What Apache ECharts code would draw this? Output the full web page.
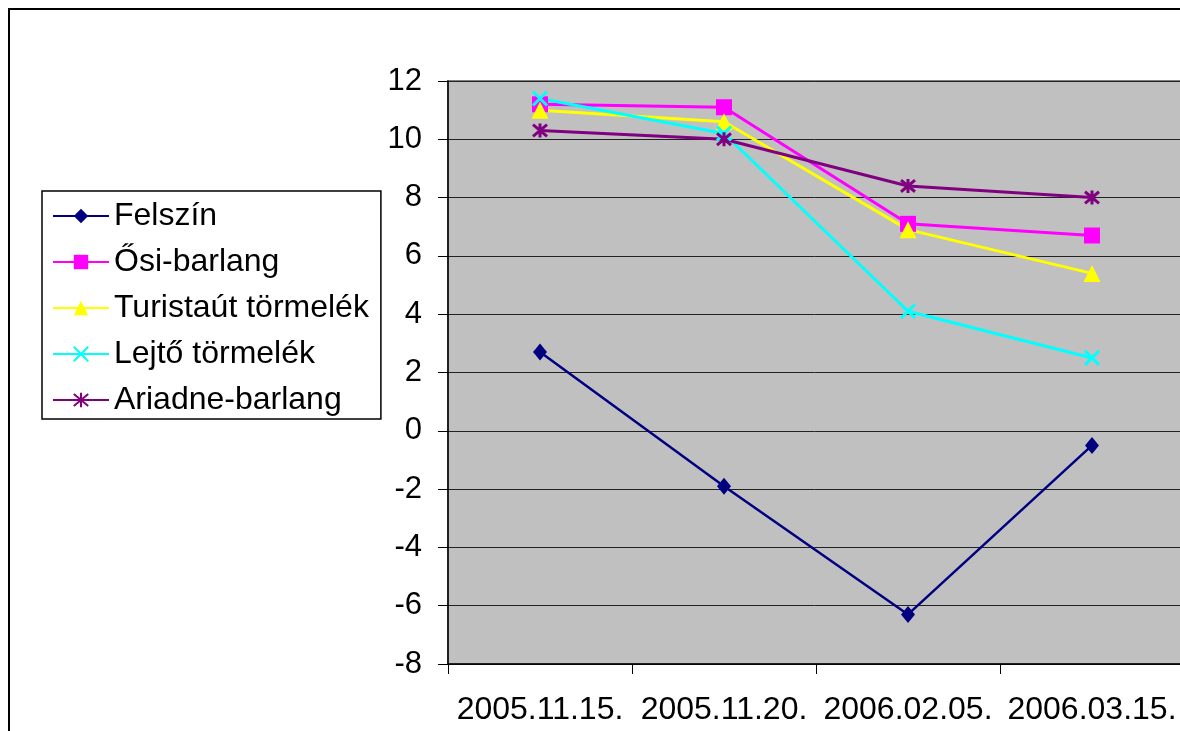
<!DOCTYPE html>
<html>
<head>
<meta charset="utf-8">
<script src="https://cdn.jsdelivr.net/npm/echarts@6/dist/echarts.min.js"></script>
<style>
html,body{margin:0;padding:0;background:#fff;}
#c{width:1180px;height:731px;}
</style>
</head>
<body>
<div id="c"></div>
<script>
const categories = ['2005.11.15.', '2005.11.20.', '2006.02.05.', '2006.03.15.'];
const felszin = [2.7, -1.9, -6.3, -0.5];
const osiBarlang = [11.2, 11.1, 7.1, 6.7];
const turistaut = [11.0, 10.6, 6.9, 5.4];
const lejto = [11.4, 10.2, 4.1, 2.5];
const ariadne = [10.3, 10.0, 8.4, 8.0];
const yTicks = { min: -8, max: 12, interval: 2 };

const FONT = '"Liberation Sans", Arial, sans-serif';
const X_SYM = 'path://M0,0L10,10M10,0L0,10';
const STAR_SYM = 'path://M0,0L10,10M10,0L0,10M5,-1L5,11';

function mk(name, data, color, symbol, size, width, stroke) {
  return {
    name: name, type: 'line', data: data,
    symbol: symbol, symbolSize: size, showAllSymbol: true,
    lineStyle: { color: color, width: width },
    itemStyle: stroke ? { color: color, borderColor: color, borderWidth: 3 } : { color: color, borderWidth: 0 },
    emphasis: { disabled: true },
    animation: false
  };
}

const chart = echarts.init(document.getElementById('c'), null, { renderer: 'canvas' });
chart.setOption({
  animation: false,
  backgroundColor: '#fff',
  textStyle: { fontFamily: FONT },
  graphic: [{
    type: 'rect', z: -10, silent: true,
    shape: { x: 9, y: 9, width: 1300, height: 900 },
    style: { fill: 'none', stroke: '#000', lineWidth: 2 }
  }],
  legend: {
    left: 42, top: 191, orient: 'vertical',
    backgroundColor: '#fff', borderColor: '#000', borderWidth: 1.5,
    padding: [7, 12, 1, 10],
    itemWidth: 56, itemHeight: 18, itemGap: 10,
    textStyle: { fontSize: 32, color: '#000', fontFamily: FONT, lineHeight: 36 },
    data: ['Felszín', 'Ősi-barlang', 'Turistaút törmelék', 'Lejtő törmelék', 'Ariadne-barlang']
  },
  grid: {
    left: 448, top: 81, width: 736, height: 583,
    show: true, backgroundColor: '#C0C0C0', borderColor: '#808080', borderWidth: 2,
    containLabel: false, outerBoundsMode: 'none'
  },
  xAxis: {
    type: 'category', data: categories, boundaryGap: true,
    axisLine: { onZero: false, lineStyle: { color: '#000', width: 1.5 } },
    axisTick: { show: true, length: 10, lineStyle: { color: '#000' } },
    axisLabel: { fontSize: 32, color: '#000', margin: 30, fontFamily: FONT, interval: 0 },
    splitLine: { show: false }
  },
  yAxis: {
    type: 'value', min: yTicks.min, max: yTicks.max, interval: yTicks.interval,
    axisLine: { show: true, lineStyle: { color: '#000', width: 1.5 } },
    axisTick: { show: true, length: 10, lineStyle: { color: '#000' } },
    axisLabel: { fontSize: 31, color: '#000', margin: 26, fontFamily: FONT },
    splitLine: { show: true, lineStyle: { color: '#222', width: 1 } }
  },
  series: [
    mk('Felszín', felszin, '#000080', 'diamond', [14, 17], 2.5, false),
    mk('Ősi-barlang', osiBarlang, '#FF00FF', 'rect', 16, 3, false),
    mk('Turistaút törmelék', turistaut, '#FFFF00', 'triangle', 17, 3, false),
    mk('Lejtő törmelék', lejto, '#00FFFF', X_SYM, 14, 3, true),
    mk('Ariadne-barlang', ariadne, '#800080', STAR_SYM, 14, 3, true)
  ]
});
</script>
</body>
</html>
